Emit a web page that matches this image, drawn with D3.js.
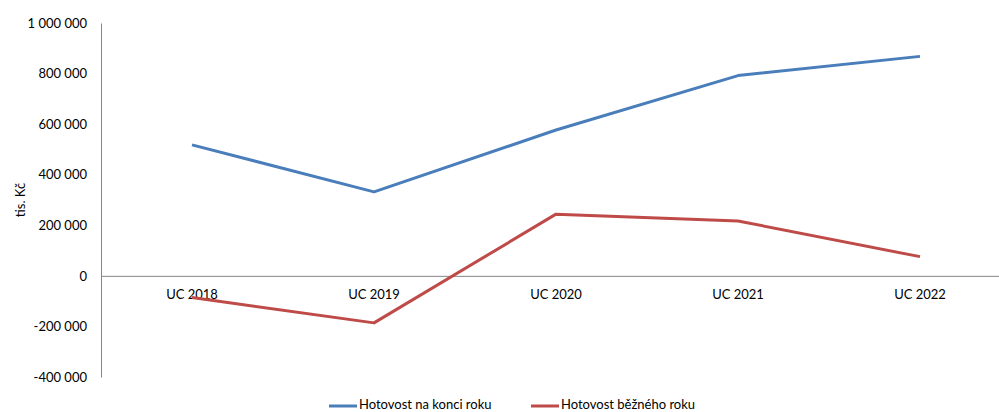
<!DOCTYPE html>
<html><head><meta charset="utf-8">
<script src="https://cdn.jsdelivr.net/npm/d3@7"></script>
<style>body{margin:0;background:#fff}svg{display:block}text{font-family:Lato,"Open Sans",sans-serif;fill:#000}</style>
</head><body>
<svg id="c" width="999" height="412"></svg>
<script>
const categories = ["UC 2018","UC 2019","UC 2020","UC 2021","UC 2022"];
const seriesNames = ["Hotovost na konci roku","Hotovost běžného roku"];
const endOfYear = [518000, 332000, 577000, 792000, 868000];
const currentYear = [-86000, -186000, 244000, 217000, 76000];
const yTicks = [-400000,-200000,0,200000,400000,600000,800000,1000000];
const colors = ["#4a7ebb","#be4b48"];

const svg = d3.select("#c");
const x = d3.scaleBand().domain(categories).range([101, 1011]);
const y = d3.scaleLinear().domain([-400000, 1000000]).range([377, 23]);
const fmt = v => d3.format(",")(v).replace(/,/g, " ").replace("−","-");

// y axis
const ya = svg.append("g").attr("transform","translate(101,0)")
  .call(d3.axisLeft(y).tickValues(yTicks).tickSize(0).tickPadding(14).tickFormat(fmt));
ya.select(".domain").attr("stroke","#868686");
ya.selectAll("text").style("font-size","13px").attr("fill","#000");

// x axis at zero
const xa = svg.append("g").attr("transform",`translate(0,${y(0)})`)
  .call(d3.axisBottom(x).tickSize(0).tickPadding(14));
xa.select(".domain").attr("stroke","#868686").attr("d","M101,0.5H999");
xa.selectAll("text").style("font-size","13px").attr("fill","#000");

svg.append("text").attr("transform","translate(22,200) rotate(-90)")
  .attr("text-anchor","middle").attr("dominant-baseline","middle")
  .style("font-size","13px").text("tis. Kč");

const line = d3.line().x((d,i)=>x(categories[i])+x.bandwidth()/2).y(d=>y(d));
[endOfYear, currentYear].forEach((s,k)=>{
  svg.append("path").datum(s).attr("d",line).attr("fill","none")
    .attr("stroke",colors[k]).attr("stroke-width",3).attr("stroke-linejoin","round");
});

// legend
const lx = [329, 531];
seriesNames.forEach((n,k)=>{
  svg.append("line").attr("x1",lx[k]).attr("x2",lx[k]+28).attr("y1",406).attr("y2",406)
    .attr("stroke",colors[k]).attr("stroke-width",3);
  svg.append("text").attr("x",lx[k]+30).attr("y",409).style("font-size","13px").text(n);
});
</script>
</body></html>
